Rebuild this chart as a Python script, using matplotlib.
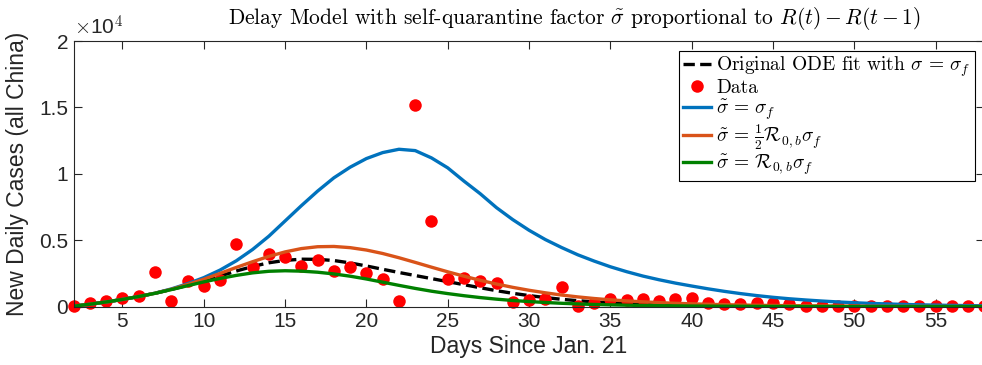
import matplotlib
matplotlib.use("Agg")
import matplotlib.pyplot as plt
from matplotlib.ticker import FuncFormatter, MultipleLocator

plt.rcParams["mathtext.fontset"] = "cm"
plt.rcParams["axes.unicode_minus"] = False

# Days since Jan. 21
days = list(range(2, 59))

# Reported new daily cases (all China)
data_cases = [30, 240, 410, 620, 790, 2580, 440, 1940, 1540, 2000,
              4690, 3000, 3930, 3710, 3070, 3500, 2700, 3000, 2550, 2050,
              410, 15180, 6460, 2050, 2120, 1940, 1790, 360, 490, 540,
              1490, 20, 240, 560, 490, 540, 410, 540, 660, 290,
              170, 170, 290, 290, 170, 40, 40, 30, 20, 10,
              15, 20, 20, 25, 35, 40, 40]

# Model curves, new daily cases
ode_fit = [30, 180, 350, 540, 760, 1000, 1290, 1600, 1940, 2300,
           2680, 3020, 3300, 3480, 3570, 3560, 3470, 3290, 3060, 2810,
           2570, 2340, 2110, 1880, 1650, 1420, 1200, 1000, 830, 680,
           550, 445, 355, 280, 220, 170, 130, 100, 80, 60,
           45, 35, 27, 20, 15, 12, 9, 7, 5, 4,
           3, 2, 2, 1, 1, 1, 1]
sigma_f = [30, 180, 350, 540, 760, 1010, 1330, 1720, 2180, 2750,
           3450, 4300, 5300, 6450, 7600, 8700, 9700, 10500, 11150, 11600,
           11850, 11750, 11200, 10450, 9450, 8500, 7450, 6550, 5750, 5050,
           4450, 3900, 3430, 3000, 2630, 2300, 2020, 1770, 1550, 1340,
           1150, 980, 830, 700, 590, 500, 420, 350, 290, 240,
           200, 165, 135, 110, 90, 75, 60]
half_r0_sigma_f = [30, 180, 350, 540, 760, 1005, 1300, 1660, 2060, 2500,
                   2950, 3380, 3780, 4120, 4370, 4510, 4530, 4440, 4260, 4000,
                   3680, 3330, 2970, 2620, 2290, 1980, 1700, 1450, 1230, 1040,
                   870, 730, 610, 510, 430, 360, 300, 250, 210, 175,
                   145, 120, 100, 85, 70, 58, 48, 40, 33, 27,
                   22, 18, 15, 12, 10, 8, 7]
r0_sigma_f = [30, 180, 350, 540, 760, 1000, 1280, 1570, 1860, 2120,
              2350, 2540, 2660, 2700, 2670, 2590, 2460, 2290, 2080, 1840,
              1600, 1370, 1160, 980, 820, 680, 560, 460, 380, 310,
              250, 200, 160, 130, 105, 85, 68, 55, 44, 35,
              28, 22, 18, 14, 11, 9, 7, 5, 4, 3,
              3, 2, 2, 1, 1, 1, 1]

labels = [r"Original ODE fit with $\sigma\,=\,\sigma_f$",
          r"Data",
          r"$\tilde{\sigma}\,=\,\sigma_f$",
          r"$\tilde{\sigma}\,=\,\frac{1}{2}\mathcal{R}_{0,b}\sigma_f$",
          r"$\tilde{\sigma}\,=\,\mathcal{R}_{0,b}\sigma_f$"]

blue = "#0072BD"
orange = "#D95319"
green = "#008000"
axis_grey = "#262626"

fig = plt.figure(figsize=(9.82, 3.65), dpi=100)
ax = fig.add_axes([0.075, 0.160, 0.9275, 0.7275])

ax.plot(days, ode_fit, color="black", lw=2.4, ls=(0, (3.4, 1.6)), label=labels[0])
ax.plot(days, data_cases, "o", color="red", ms=9, mec="none", clip_on=False,
        label=labels[1])
ax.plot(days, sigma_f, color=blue, lw=2.4, label=labels[2])
ax.plot(days, half_r0_sigma_f, color=orange, lw=2.4, label=labels[3])
ax.plot(days, r0_sigma_f, color=green, lw=2.4, label=labels[4])

ax.set_xlim(2, 58)
ax.set_ylim(0, 20000)
ax.xaxis.set_major_locator(MultipleLocator(5))
ax.yaxis.set_major_locator(MultipleLocator(5000))
ax.yaxis.set_major_formatter(FuncFormatter(lambda v, p: f"{v / 1e4:g}"))

for lab in ax.get_xticklabels() + ax.get_yticklabels():
    lab.set_fontfamily("Liberation Sans")
ax.tick_params(direction="in", length=6, width=0.8, colors=axis_grey,
               top=True, right=True, labelsize=15, pad=4)
for s in ax.spines.values():
    s.set_color(axis_grey)
    s.set_linewidth(0.8)

label_font = {"family": "Liberation Sans", "size": 16.5}
ax.set_xlabel("Days Since Jan. 21", fontdict=label_font, color=axis_grey, labelpad=3)
ax.set_ylabel("New Daily Cases (all China)", fontdict=label_font, color=axis_grey, labelpad=7)

ax.text(0.0, 1.01, r"$\times$10$^4$", transform=ax.transAxes, ha="left", va="bottom",
        fontsize=15, family="Liberation Sans", color=axis_grey)

fig.text(0.585, 0.95, r"Delay Model with self-quarantine factor $\tilde{\sigma}$ proportional to $R(t) - R(t-1)$",
         ha="center", va="center", family="cmr10", fontsize=15.5, color="black")

leg = ax.legend(loc="upper right", bbox_to_anchor=(0.9955, 0.985),
                prop={"family": "cmr10", "size": 14},
                frameon=True, fancybox=False, edgecolor="black", framealpha=1,
                handlelength=1.4, handletextpad=0.3, borderpad=0.2, labelspacing=0.0,
                borderaxespad=0.3, numpoints=1)
leg.get_frame().set_linewidth(0.8)

fig.savefig("out.png", dpi=100)
